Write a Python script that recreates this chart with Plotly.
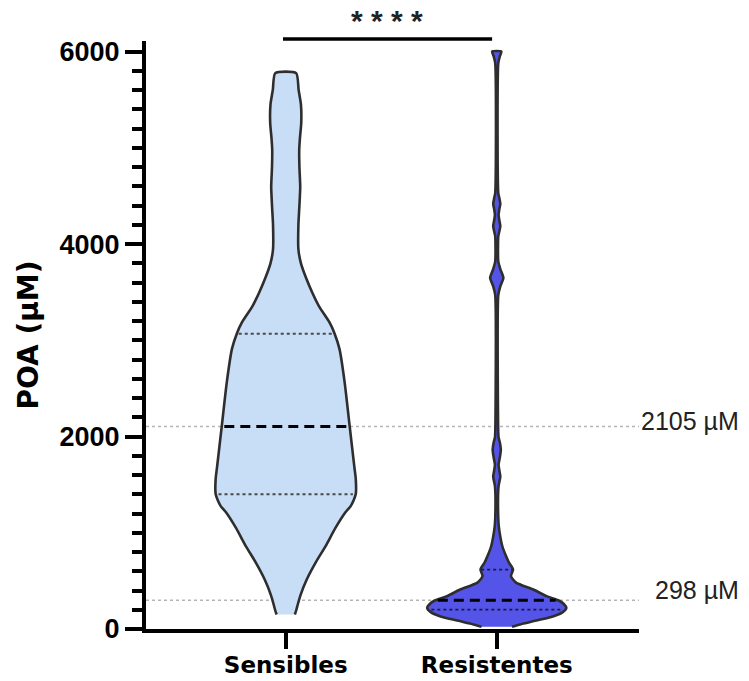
import numpy as np
import plotly.graph_objects as go

# ---------------- data ----------------
categories = ["Sensibles", "Resistentes"]

# violin outlines: POA level (µM) and relative density (arbitrary units)
sens_levels = [151, 200, 260, 350, 514, 700, 856, 1050, 1215, 1277, 1340, 1402, 1558, 1693,
               2105, 2565, 2908, 3074, 3188, 3350, 3500, 3650, 3800, 3946, 4200, 4400, 4595,
               4800, 4979, 5100, 5260, 5450, 5602, 5776]
sens_density = [9, 10.5, 12, 14.5, 20.7, 30, 39, 49, 59, 64, 67, 69, 69, 67.5,
                63, 58, 53, 48, 43, 33, 26, 20, 15, 12.5, 12.5, 13.5, 14.3,
                13.5, 13.3, 14, 15.3, 15, 12.7, 10.3]

res_levels = [23, 47, 90, 133, 175, 220, 260, 296, 341, 410, 482, 548, 618, 690, 760, 860,
              960, 1067, 1150, 1450, 1500, 1584, 1650, 1708, 1780, 1864, 1940, 1990, 2040,
              3470, 3560, 3650, 3740, 3820, 4080, 4130, 4185, 4250, 4304, 4360, 4418, 4480,
              4530, 5880, 5950, 6000]
res_density = [15, 23, 40, 56, 65, 68.5, 66, 61, 49, 36, 19, 14, 16, 12, 9, 5.5,
               3.5, 2, 1.5, 1.5, 2, 3.5, 2.5, 1.8, 3, 4, 3, 1.8, 1.5,
               1.5, 3.5, 6.5, 3.5, 1.5, 1.5, 2.5, 3.5, 2.5, 1.8, 2.5, 3.5, 2.5,
               1.5, 1.5, 3, 4.5]

# quartiles (Q1, median, Q3) in µM
sens_quartiles = [1400, 2105, 3068]
res_quartiles = [202, 298, 618]

# reference lines (medians) and their labels
ref_values = [2105, 298]
ref_labels = ["2105 µM", "298 µM"]

significance = "* * * *"
y_ticks = [0, 2000, 4000, 6000]

# ---------------- styling / layout constants ----------------
YMAX = 6110
X_RANGE = [-0.662, 1.674]
HALF = 0.332            # max half-width of a violin, in category units
DENS_MAX = 69.0
fills = ["#C8DDF6", "#5454E8"]
edge = "#2E2E2E"

fig = go.Figure()

groups = [
    (sens_levels, sens_density, sens_quartiles, "#4a4a4a"),
    (res_levels, res_density, res_quartiles, "#1a1a3a"),
]

for i, (lv, dens, quart, qcol) in enumerate(groups):
    lv = np.asarray(lv, float)
    hw = np.asarray(dens, float) / DENS_MAX * HALF
    x = np.concatenate([i + hw, (i - hw)[::-1]])
    y = np.concatenate([lv, lv[::-1]])
    fig.add_trace(go.Scatter(
        x=x, y=y, mode="lines", fill="toself", fillcolor=fills[i],
        line=dict(color=edge, width=2.6, shape="spline", smoothing=0.6),
        hoverinfo="skip", showlegend=False))
    for k, q in enumerate(quart):
        w = np.interp(q, lv, np.asarray(dens, float)) / DENS_MAX * HALF * 0.96
        if k == 1:
            ln = dict(color="black", width=3, dash="10px,6px")
        else:
            ln = dict(color=qcol, width=1.8, dash="dot")
        fig.add_trace(go.Scatter(x=[i - w, i + w], y=[q, q], mode="lines",
                                 line=ln, hoverinfo="skip", showlegend=False))

# reference dotted lines + labels
for val, lab, ys in zip(ref_values, ref_labels, [5, 10]):
    fig.add_shape(type="line", xref="paper", x0=0, x1=1, yref="y", y0=val, y1=val,
                  line=dict(color="#b5b5b5", width=1.5, dash="dot"), layer="below")
    fig.add_annotation(x=1, xref="paper", y=val, yref="y", text=lab, showarrow=False,
                       xanchor="right", xshift=102, yanchor="middle", yshift=ys,
                       font=dict(family="Liberation Sans", size=25, color="#222222"))

# significance bar
bar_level = 6130
fig.add_shape(type="line", xref="x", x0=-0.013, x1=1 - 0.022, yref="paper",
              y0=bar_level / YMAX, y1=bar_level / YMAX,
              line=dict(color="black", width=3.5), layer="above")
fig.add_annotation(x=0.48, xref="x", y=bar_level / YMAX, yref="paper", text=significance,
                   showarrow=False, xanchor="center", yanchor="bottom", yshift=0,
                   font=dict(family="Liberation Sans", size=30, color="#222222",
                             weight="bold"))

fig.update_layout(
    width=749, height=681,
    margin=dict(l=146, r=110, t=41, b=52, autoexpand=False),
    plot_bgcolor="white", paper_bgcolor="white", showlegend=False,
    xaxis=dict(range=X_RANGE, tickvals=[0, 1], ticktext=categories,
               showline=True, linewidth=4, linecolor="black", automargin=False,
               ticks="outside", ticklen=16, tickwidth=4, tickcolor="black",
               ticklabelstandoff=-4,
               tickfont=dict(family="DejaVu Sans", size=23, color="black", weight="bold"),
               showgrid=False, zeroline=False),
    yaxis=dict(range=[0, YMAX], tickvals=y_ticks, automargin=False,
               showline=True, linewidth=4, linecolor="black",
               ticks="outside", ticklen=17, tickwidth=4, tickcolor="black",
               tickfont=dict(family="Liberation Sans", size=27, color="black", weight="bold"),
               minor=dict(dtick=200, tick0=0, ticks="outside", ticklen=10, tickwidth=3.5,
                          tickcolor="black"),
               showgrid=False, zeroline=False,
               title=dict(text="POA (µM)", standoff=14,
                          font=dict(family="DejaVu Sans", size=28, color="black", weight="bold"))),
)

fig.write_html("out.html", config={"displayModeBar": False})
